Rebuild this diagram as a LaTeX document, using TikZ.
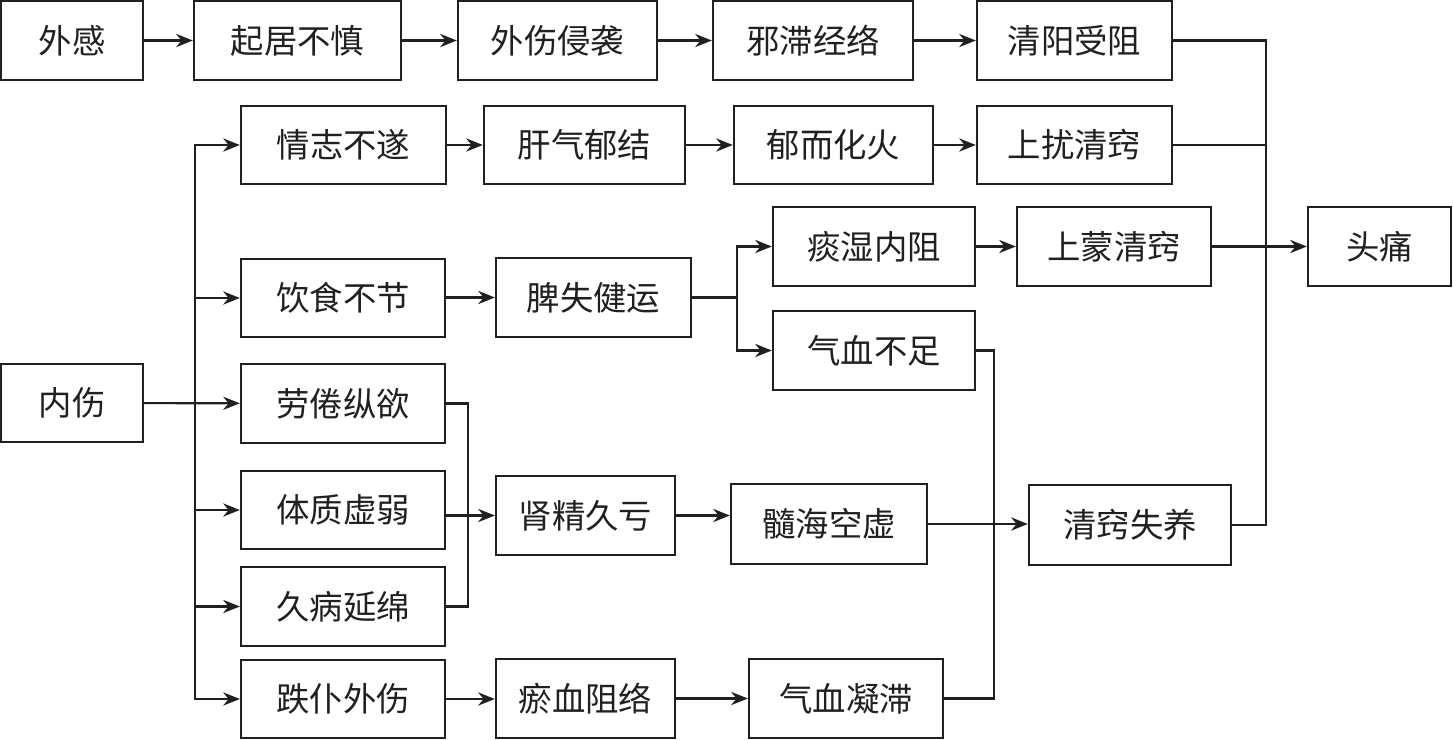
\documentclass[tikz,border=0pt]{standalone}
\usepackage{fontspec}
\newfontfamily\cjk{Noto Sans CJK SC}
\usetikzlibrary{arrows.meta}
\definecolor{ink}{HTML}{231F20}
\newcommand\boxnode[6]{\node[box,minimum width={(#4-#2)*0.02cm},minimum height={(#5-#3)*0.02cm}] (#1) at ({(#2+#4)/2},{(#3+#5)/2}) {#6};}
\begin{document}
\begin{tikzpicture}[x=0.02cm,y=-0.02cm,
  box/.style={draw=ink,line width=1.3pt,inner sep=0pt,font=\cjk\fontsize{19}{21}\selectfont,text=ink},
  link/.style={draw=ink,line width=1.2pt},
  arr/.style={link,-{Stealth[length=9.5pt,width=7.5pt]}}]
\useasboundingbox (0,0) rectangle (1453,740);
\boxnode{waigan}{1}{1}{143}{80}{外感}
\boxnode{qiju}{194}{1}{401}{80}{起居不慎}
\boxnode{waishang}{458}{1}{657}{80}{外伤侵袭}
\boxnode{xiezhi}{713}{1}{913}{80}{邪滞经络}
\boxnode{qingyang}{977}{1}{1172}{80}{清阳受阻}
\boxnode{qingzhi}{241}{106}{446}{184}{情志不遂}
\boxnode{ganqi}{484}{106}{685}{184}{肝气郁结}
\boxnode{yuer}{734}{106}{933}{184}{郁而化火}
\boxnode{shangrao}{977}{106}{1172}{184}{上扰清窍}
\boxnode{tanshi}{773}{207}{975}{286}{痰湿内阻}
\boxnode{shangmeng}{1017}{207}{1211}{286}{上蒙清窍}
\boxnode{toutong}{1308}{207}{1451}{286}{头痛}
\boxnode{yinshi}{241}{259}{445}{337}{饮食不节}
\boxnode{pishi}{496}{258}{691}{337}{脾失健运}
\boxnode{qixue}{773}{311}{975}{390}{气血不足}
\boxnode{neishang}{1}{364}{143}{442}{内伤}
\boxnode{laojuan}{241}{364}{445}{443}{劳倦纵欲}
\boxnode{tizhi}{241}{471}{445}{549}{体质虚弱}
\boxnode{shenjing}{496}{476}{675}{555}{肾精久亏}
\boxnode{suihai}{731}{484}{927}{564}{髓海空虚}
\boxnode{qingqiao}{1029}{485}{1231}{565}{清窍失养}
\boxnode{jiubing}{241}{567}{445}{646}{久病延绵}
\boxnode{diepu}{241}{660}{445}{738}{跌仆外伤}
\boxnode{yuxue}{496}{659}{675}{738}{瘀血阻络}
\boxnode{ningzhi}{749}{659}{943}{738}{气血凝滞}
% junction columns
\coordinate (jl) at (195,0);
\coordinate (jm) at (468,0);
\coordinate (jp) at (737,0);
\coordinate (jq) at (994,0);
\coordinate (jr) at (1266,0);
% row 1
\draw[arr] (waigan) -- (qiju);
\draw[arr] (qiju) -- (waishang);
\draw[arr] (waishang) -- (xiezhi);
\draw[arr] (xiezhi) -- (qingyang);
% row 2
\draw[arr] (qingzhi) -- (ganqi);
\draw[arr] (ganqi) -- (yuer);
\draw[arr] (yuer) -- (shangrao);
% inner injury fan-out
\draw[arr] (neishang) -- (laojuan);
\draw[arr] (jl |- laojuan.west) |- (qingzhi.west);
\draw[arr] (jl |- laojuan.west) |- (diepu.west);
\draw[arr] (jl |- yinshi.west) -- (yinshi.west);
\draw[arr] (jl |- tizhi.west) -- (tizhi.west);
\draw[arr] (jl |- jiubing.west) -- (jiubing.west);
% diet branch
\draw[arr] (yinshi.east |- pishi.west) -- (pishi.west);
\draw[link] (pishi.east) -- (jp |- pishi.east);
\draw[arr] (jp |- pishi.east) |- (tanshi.west);
\draw[arr] (jp |- pishi.east) |- (qixue.west);
\draw[arr] (tanshi) -- (shangmeng);
\draw[arr] (shangmeng) -- (toutong);
% kidney branch
\draw[link] (laojuan.east) -| (jm |- jiubing.east) -- (jiubing.east);
\draw[arr] (tizhi.east |- shenjing.west) -- (shenjing.west);
\draw[arr] (shenjing.east) -- (shenjing.east -| suihai.west);
\draw[arr] (suihai.east) -- (suihai.east -| qingqiao.west);
% trauma branch
\draw[arr] (diepu) -- (diepu -| yuxue.west);
\draw[arr] (yuxue) -- (yuxue -| ningzhi.west);
\draw[link] (qixue.east) -| (jq |- ningzhi.east) -- (ningzhi.east);
% collector to headache
\draw[link] (qingyang.east) -| (jr |- qingqiao.east) -- (qingqiao.east);
\draw[link] (shangrao.east) -- (jr |- shangrao.east);
\end{tikzpicture}
\end{document}
